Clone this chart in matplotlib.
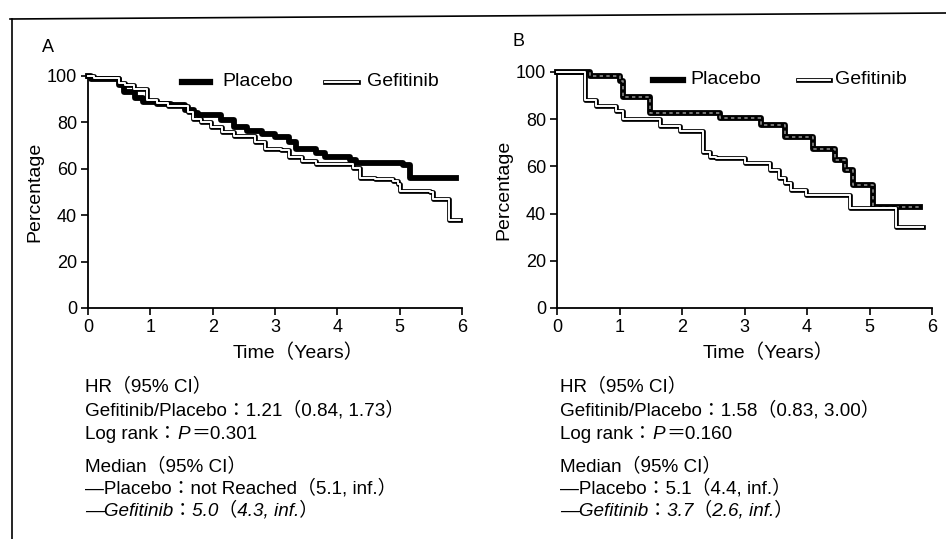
import matplotlib
matplotlib.use('Agg')
import matplotlib.pyplot as plt
from matplotlib.lines import Line2D

# Latin text in an Arial-like face, full-width brackets/colons from the CJK face
plt.rcParams['font.family'] = ['Liberation Sans', 'Noto Sans CJK JP', 'DejaVu Sans']

# Panel A - Kaplan-Meier steps (years, percentage)
a_placebo_t = [0, 0.05, 0.49, 0.57, 0.75, 0.89, 1.1, 1.33, 1.55, 1.7, 1.77, 2.14, 2.35, 2.55, 2.79, 3.0, 3.22, 3.33, 3.65, 3.81, 4.2, 4.3, 4.84, 5.06, 5.17, 5.9]
a_placebo_s = [100, 98.5, 96, 93, 90.5, 88.8, 88, 87.5, 85.5, 84, 83, 81, 78, 76.5, 75, 73.5, 71.5, 68.6, 67, 65, 64, 62.5, 62.5, 61.5, 56, 56]
a_gef_t = [0, 0.1, 0.5, 0.6, 0.73, 0.95, 1.1, 1.28, 1.6, 1.68, 1.81, 1.98, 2.15, 2.35, 2.68, 2.84, 3.1, 3.22, 3.44, 3.65, 3.97, 4.25, 4.36, 4.6, 4.9, 4.98, 5.0, 5.49, 5.54, 5.79, 5.97]
a_gef_s = [100, 99, 97, 96, 94.6, 89.6, 88.5, 87, 84.5, 81.6, 80, 78, 76, 74.3, 71.4, 68.6, 68, 65, 63.5, 62, 62, 60.5, 56, 55.5, 54.8, 53.4, 50.4, 50, 46.8, 38, 38]

# Panel B
b_placebo_t = [0, 0.53, 1.0, 1.05, 1.49, 2.6, 3.27, 3.65, 4.1, 4.45, 4.6, 4.74, 5.06, 5.8]
b_placebo_s = [100, 98.3, 96, 89.5, 82.5, 80.4, 77.5, 72.5, 67.3, 62.7, 58.5, 52.1, 43, 43]
b_gef_t = [0, 0.45, 0.62, 0.95, 1.05, 1.65, 1.97, 2.34, 2.45, 2.55, 3.0, 3.4, 3.55, 3.65, 3.75, 3.98, 4.69, 5.43, 5.86]
b_gef_s = [100, 88, 85.6, 83.5, 80, 77, 75, 66, 64, 63.5, 61.5, 58.5, 55, 53, 50, 47.9, 42.3, 34.3, 34.3]

x_ticks = [0, 1, 2, 3, 4, 5, 6]
y_ticks = [0, 20, 40, 60, 80, 100]

# each line: list of (text, style) pieces
stats_a = [[('HR\uff0895% CI\uff09', 'normal')],
           [('Gefitinib/Placebo\uff1a1.21\uff080.84, 1.73\uff09', 'normal')],
           [('Log rank\uff1a', 'normal'), ('P', 'italic'), ('\uff1d0.301', 'normal')],
           [('Median\uff0895% CI\uff09', 'normal')],
           [('\u2014Placebo\uff1anot Reached\uff085.1, inf.\uff09', 'normal')],
           [('\u2014Gefitinib\uff1a5.0\uff084.3, inf.\uff09', 'italic')]]
stats_b = [[('HR\uff0895% CI\uff09', 'normal')],
           [('Gefitinib/Placebo\uff1a1.58\uff080.83, 3.00\uff09', 'normal')],
           [('Log rank\uff1a', 'normal'), ('P', 'italic'), ('\uff1d0.160', 'normal')],
           [('Median\uff0895% CI\uff09', 'normal')],
           [('\u2014Placebo\uff1a5.1\uff084.4, inf.\uff09', 'normal')],
           [('\u2014Gefitinib\uff1a3.7\uff082.6, inf.\uff09', 'italic')]]

W, H = 946, 539
fig = plt.figure(figsize=(W / 100, H / 100), dpi=100)


def fx(px):
    return px / W


def fy(py):
    return 1 - py / H


def draw_panel(ax, pt, ps, gt, gs, placebo_center):
    ax.step(pt, ps, where='post', color='black', lw=4.2, clip_on=False, zorder=3)
    if placebo_center:
        ax.step(pt, ps, where='post', color='#8a8a8a', lw=1.2, ls=(0, (2, 2)),
                clip_on=False, zorder=4)
    ax.step(gt, gs, where='post', color='black', lw=3.4, clip_on=False, zorder=5)
    ax.step(gt, gs, where='post', color='white', lw=1.4, clip_on=False, zorder=6)
    ax.set_xlim(0, 6)
    ax.set_ylim(0, 100)
    ax.set_xticks(x_ticks)
    ax.set_yticks(y_ticks)
    ax.spines['top'].set_visible(False)
    ax.spines['right'].set_visible(False)
    ax.spines['left'].set_linewidth(1.3)
    ax.spines['bottom'].set_linewidth(1.3)
    ax.tick_params(direction='out', length=5, width=1.2, labelsize=13, pad=3)
    ax.set_ylabel('Percentage', fontsize=14, labelpad=2)


axA = fig.add_axes([fx(88), fy(308), fx(462 - 88), (308 - 76) / H])
draw_panel(axA, a_placebo_t, a_placebo_s, a_gef_t, a_gef_s, False)
axB = fig.add_axes([fx(557), fy(308), fx(932 - 557), (308 - 72) / H])
draw_panel(axB, b_placebo_t, b_placebo_s, b_gef_t, b_gef_s, True)

fig.text(fx(298), fy(353), 'Time\uff08Years\uff09', fontsize=14, ha='center', va='center')
fig.text(fx(768), fy(353), 'Time\uff08Years\uff09', fontsize=14, ha='center', va='center')


def legend_item(x0, x1, y, gef):
    if gef:
        fig.add_artist(Line2D([fx(x0), fx(x1)], [fy(y), fy(y)], color='black', lw=3.4))
        fig.add_artist(Line2D([fx(x0), fx(x1)], [fy(y), fy(y)], color='white', lw=1.4))
    else:
        fig.add_artist(Line2D([fx(x0), fx(x1)], [fy(y), fy(y)], color='black', lw=4.5))


legend_item(182, 210, 82, False)
fig.text(fx(222), fy(82), 'Placebo', fontsize=14, va='center')
legend_item(325, 358, 82, True)
fig.text(fx(367), fy(82), 'Gefitinib', fontsize=14, va='center')
legend_item(653, 683, 80, False)
fig.text(fx(690), fy(80), 'Placebo', fontsize=14, va='center')
legend_item(798, 830, 80, True)
fig.text(fx(835), fy(80), 'Gefitinib', fontsize=14, va='center')

fig.text(fx(42), fy(48), 'A', fontsize=13, va='center')
fig.text(fx(512), fy(42), 'B', fontsize=13, va='center')

renderer = fig.canvas.get_renderer()


def rich_line(x, y, pieces, size=13.6):
    # pieces are set one after another on a common baseline
    cur = fx(x)
    for txt, style in pieces:
        t = fig.text(cur, fy(y), txt, fontsize=size, style=style, va='baseline')
        bb = t.get_window_extent(renderer)
        cur = bb.x1 / fig.bbox.width + 0.001


baselines = [391, 415, 439, 471, 494, 516]
for line, y in zip(stats_a, baselines):
    rich_line(85, y, line)
for line, y in zip(stats_b, baselines):
    rich_line(560, y, line)

# frame around the figure (top and left edges visible in the scan)
fig.add_artist(Line2D([fx(10), fx(946)], [fy(19), fy(13)], color='black', lw=1.2))
fig.add_artist(Line2D([fx(12), fx(12)], [fy(19), fy(539)], color='black', lw=1.2))

fig.savefig('out.png', dpi=100)
plt.close(fig)
